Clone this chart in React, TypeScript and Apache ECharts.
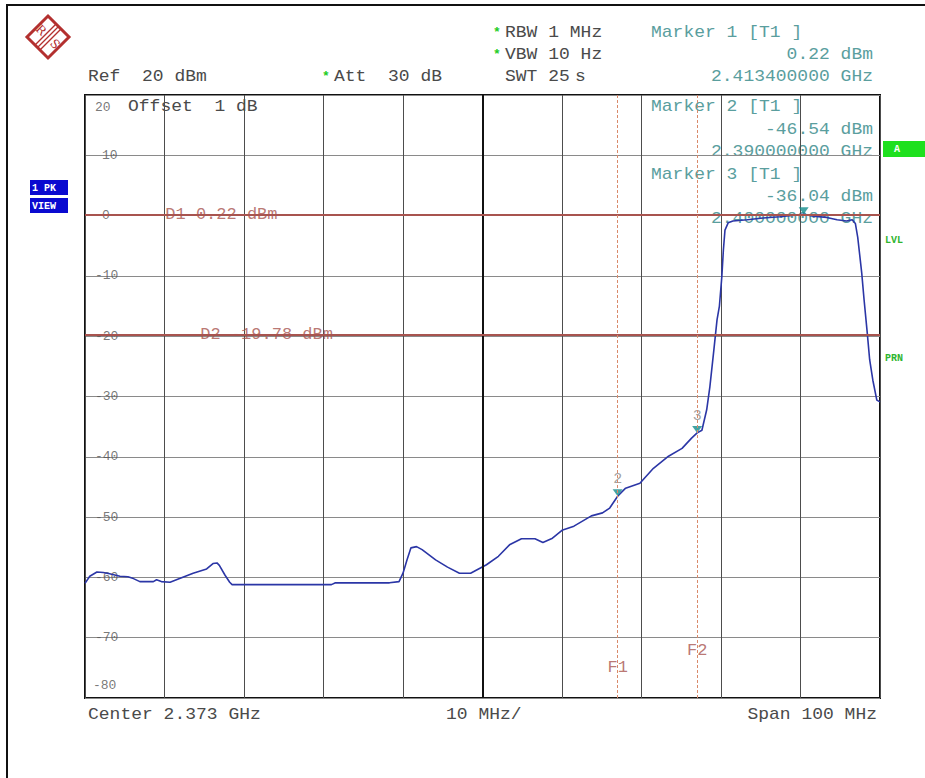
import React, { useEffect, useRef } from "react";
import * as echarts from "echarts";

// Sweep settings
const CENTER_MHZ = 2373;
const SPAN_MHZ = 100;

// Trace 1 (peak detector) — frequency in MHz, level in dBm
const traceFreqMHz = [
  2323.0, 2323.6, 2324.5, 2325.3, 2326.1, 2327.4, 2328.4, 2329.1, 2329.9, 2331.6,
  2332.0, 2332.6, 2333.7, 2334.9, 2336.6, 2338.3, 2339.1, 2339.6, 2339.9, 2340.6,
  2341.2, 2341.5, 2352.5, 2354.0, 2354.5, 2361.3, 2362.5, 2363.0, 2363.5, 2364.0,
  2364.7, 2365.4, 2367.1, 2368.6, 2370.1, 2371.5, 2372.5, 2373.5, 2375.0, 2376.4,
  2377.9, 2379.6, 2380.6, 2381.8, 2383.0, 2384.5, 2386.7, 2388.1, 2389.0, 2390.0,
  2391.0, 2392.8, 2394.5, 2396.4, 2398.1, 2399.3, 2400.0, 2400.6, 2401.2, 2401.6,
  2402.1, 2402.5, 2402.8, 2403.1, 2403.3, 2403.5, 2403.9, 2404.5, 2406.3, 2408.3,
  2410.4, 2413.4, 2414.6, 2416.3, 2417.6, 2418.8, 2419.5, 2419.9, 2420.2, 2420.7,
  2421.0, 2421.4, 2421.7, 2422.1, 2422.6, 2423.0,
];
const traceLevelDbm = [
  -61.0, -59.8, -59.1, -59.2, -59.4, -59.8, -59.9, -60.2, -60.7, -60.7,
  -60.4, -60.7, -60.8, -60.2, -59.3, -58.6, -57.7, -57.6, -58.0, -59.6,
  -60.8, -61.2, -61.2, -61.2, -60.9, -60.9, -60.7, -59.3, -57.1, -55.1,
  -54.9, -55.4, -57.1, -58.3, -59.3, -59.3, -58.6, -57.9, -56.5, -54.6,
  -53.6, -53.6, -54.2, -53.5, -52.2, -51.5, -49.8, -49.3, -48.5, -46.54,
  -45.2, -44.4, -41.9, -39.9, -38.6, -36.9, -36.04, -35.6, -32.2, -28.4,
  -22.3, -17.3, -15.0, -10.2, -5.7, -2.4, -1.2, -0.9, -0.7, -0.4,
  -0.2, 0.22, -0.1, -0.3, -0.7, -0.9, -0.7, -1.3, -3.6, -9.5,
  -14.0, -19.5, -23.9, -27.3, -30.6, -30.9,
];

// Level scale
const levelTicks = [20, 10, 0, -10, -20, -30, -40, -50, -60, -70, -80];

// Display lines (level) and frequency lines
const displayLineNames = ["D1", "D2"];
const displayLineLevels = [0.22, -19.78];
const freqLineNames = ["F1", "F2"];
const freqLineMHz = [2390, 2400];
const freqLineLabelLevel = [-75.0, -72.2];

// Markers
const markerNames = ["1", "2", "3"];
const markerFreqMHz = [2413.4, 2390, 2400];
const markerLevelDbm = [0.22, -46.54, -36.04];

const MONO = '"Liberation Mono", "DejaVu Sans Mono", monospace';
const ADV = 10.8;
const FS = 16;
const SX = 1.125;
const GRAY = "#4a4a4a";
const TEAL = "#5a9e9e";
const BROWN = "#a8544f";

const off = (f: number) => f - CENTER_MHZ;

// Monospaced line: each word placed at its column so spacing is kept
function mono(str: string, x: number, y: number, color: string, align: "left" | "right" = "left", z = 0) {
  const start = align === "right" ? x - str.length * ADV : x;
  const out: any[] = [];
  const re = /\S+/g;
  let m: RegExpExecArray | null;
  while ((m = re.exec(str))) {
    out.push({
      type: "text",
      x: start + m.index * ADV,
      y,
      scaleX: SX,
      z,
      silent: true,
      style: {
        text: m[0],
        fill: color,
        fontSize: FS,
        fontFamily: MONO,
        align: "left",
        verticalAlign: "middle",
      },
    });
  }
  return out;
}

function star(x: number, y: number) {
  return {
    type: "text",
    x,
    y,
    silent: true,
    style: { text: "*", fill: "#22cc22", fontSize: 13, fontFamily: MONO, fontWeight: "bold", align: "center", verticalAlign: "middle" },
  };
}

function tag(text: string, x: number, y: number, w: number, h: number, bg: string) {
  return [
    { type: "rect", shape: { x, y, width: w, height: h }, style: { fill: bg }, silent: true },
    {
      type: "text",
      x: x + 2,
      y: y + h / 2 + 0.5,
      silent: true,
      style: { text, fill: "#ffffff", fontSize: 10, fontWeight: "bold", fontFamily: MONO, align: "left", verticalAlign: "middle" },
    },
  ];
}

function logo() {
  const c = "#b3302f";
  const cx = 48, cy = 37, r = 21;
  const lines: any[] = [];
  for (const d of [-3.5, 0, 3.5]) {
    const ox = d / Math.SQRT2, oy = d / Math.SQRT2;
    lines.push({
      type: "line",
      silent: true,
      shape: { x1: cx - 10.5 + ox, y1: cy + 10.5 + oy, x2: cx + 10.5 + ox, y2: cy - 10.5 + oy },
      style: { stroke: c, lineWidth: 1.3 },
    });
  }
  return [
    {
      type: "polygon",
      silent: true,
      shape: { points: [[cx, cy - r], [cx + r, cy], [cx, cy + r], [cx - r, cy]] },
      style: { fill: "none", stroke: c, lineWidth: 3 },
    },
    ...lines,
    { type: "text", x: cx - 7, y: cy - 7, rotation: -Math.PI / 4, silent: true, style: { text: "R", fill: c, fontSize: 12, fontFamily: "DejaVu Serif", align: "center", verticalAlign: "middle" } },
    { type: "text", x: cx + 7, y: cy + 7, rotation: -Math.PI / 4, silent: true, style: { text: "S", fill: c, fontSize: 12, fontFamily: "DejaVu Serif", align: "center", verticalAlign: "middle" } },
  ];
}

export default function App() {
  const ref = useRef<HTMLDivElement>(null);

  useEffect(() => {
    if (!ref.current) return;
    const chart = echarts.init(ref.current, undefined, { renderer: "svg" });

    const traceData = traceFreqMHz.map((f, i) => [off(f), traceLevelDbm[i]]);
    const fmtLevel = (v: number) => `${v.toFixed(2)} dBm`;
    const fmtFreq = (f: number) => `${(f / 1000).toFixed(9)} GHz`;

    const graphic: any[] = [
      // outer frame
      { type: "line", silent: true, shape: { x1: 6, y1: 5, x2: 925, y2: 5 }, style: { stroke: "#111", lineWidth: 2 } },
      { type: "line", silent: true, shape: { x1: 7, y1: 4, x2: 7, y2: 778 }, style: { stroke: "#111", lineWidth: 2 } },
      ...logo(),
      // header
      star(497, 32), ...mono("RBW 1 MHz", 505, 33, GRAY),
      star(497, 54), ...mono("VBW 10 Hz", 505, 55, GRAY),
      ...mono("SWT 25", 505, 77, GRAY), ...mono("s", 575, 77, GRAY),
      ...mono("Ref  20 dBm", 88, 77, GRAY),
      star(326, 76), ...mono("Att  30 dB", 334, 77, GRAY),
      ...mono(`Marker ${markerNames[0]} [T1 ]`, 651, 33, TEAL),
      ...mono(fmtLevel(markerLevelDbm[0]), 873, 55, TEAL, "right"),
      ...mono(fmtFreq(markerFreqMHz[0]), 873, 77, TEAL, "right"),
      // inside the diagram
      ...mono("Offset  1 dB", 128, 107, GRAY),
      ...mono(`Marker ${markerNames[1]} [T1 ]`, 651, 107, TEAL),
      ...mono(fmtLevel(markerLevelDbm[1]), 873, 130, TEAL, "right"),
      ...mono(fmtFreq(markerFreqMHz[1]), 873, 152, TEAL, "right"),
      ...mono(`Marker ${markerNames[2]} [T1 ]`, 651, 175, TEAL),
      ...mono(fmtLevel(markerLevelDbm[2]), 873, 197, TEAL, "right"),
      ...mono(fmtFreq(markerFreqMHz[2]), 873, 219, TEAL, "right"),
      // footer
      ...mono(`Center ${(CENTER_MHZ / 1000).toFixed(3)} GHz`, 88, 715, GRAY),
      ...mono(`${SPAN_MHZ / 10} MHz/`, 446, 715, GRAY),
      ...mono(`Span ${SPAN_MHZ} MHz`, 877, 715, GRAY, "right"),
      // side annotations
      ...tag("1 PK", 30, 180, 38, 15, "#0a0ad0"),
      ...tag("VIEW", 30, 198, 38, 15, "#0a0ad0"),
      { type: "rect", silent: true, shape: { x: 883, y: 141, width: 42, height: 16 }, style: { fill: "#1ee01e" } },
      { type: "text", x: 897, y: 149, silent: true, style: { text: "A", fill: "#ffffff", fontSize: 10, fontWeight: "bold", fontFamily: MONO, align: "center", verticalAlign: "middle" } },
      { type: "text", x: 885, y: 240, silent: true, style: { text: "LVL", fill: "#2fb52f", fontSize: 10, fontWeight: "bold", fontFamily: MONO, align: "left", verticalAlign: "middle" } },
      { type: "text", x: 885, y: 358, silent: true, style: { text: "PRN", fill: "#2fb52f", fontSize: 10, fontWeight: "bold", fontFamily: MONO, align: "left", verticalAlign: "middle" } },
    ];

    const option: any = {
      animation: false,
      backgroundColor: "#ffffff",
      grid: {
        left: 85,
        top: 95,
        width: 795,
        height: 603,
        show: true,
        borderColor: "#111",
        borderWidth: 2,
        backgroundColor: "transparent",
        containLabel: false,
        outerBoundsMode: "none",
      },
      xAxis: {
        type: "value",
        min: -SPAN_MHZ / 2,
        max: SPAN_MHZ / 2,
        interval: SPAN_MHZ / 10,
        axisLine: { show: false },
        axisTick: { show: false },
        axisLabel: { show: false },
        splitLine: { show: true, lineStyle: { color: "#4d4d4d", width: 1 } },
      },
      yAxis: {
        type: "value",
        min: -80,
        max: 20,
        interval: 10,
        axisLine: { show: false },
        axisTick: { show: false },
        axisLabel: { show: false },
        splitLine: { show: true, lineStyle: { color: "#8a8a8a", width: 1.2 } },
      },
      graphic,
      series: [
        {
          // level scale written inside the diagram
          type: "scatter",
          z: 1,
          silent: true,
          symbolSize: 0,
          data: levelTicks.map((v) => ({
            value: [-SPAN_MHZ / 2, v],
            label: {
              distance: v === 20 ? 10 : v === -80 ? 8 : v >= 0 ? 17 : 10,
              offset: v === 20 ? [0, 12] : v === -80 ? [0, -13] : [0, 0],
            },
          })),
          label: {
            show: true,
            position: "right",
            formatter: (p: any) => String(p.value[1]),
            color: "#555",
            fontSize: 13,
            fontFamily: MONO,
          },
        },
        {
          // reference lines: centre frequency, display lines, frequency lines
          type: "line",
          z: 1,
          silent: true,
          data: [],
          markLine: {
            silent: true,
            symbol: "none",
            label: { show: false },
            data: [
              { xAxis: 0, lineStyle: { color: "#111", width: 2, type: "solid" } },
              ...displayLineLevels.map((v) => ({ yAxis: v, lineStyle: { color: BROWN, width: 2, type: "solid" } })),
              ...freqLineMHz.map((f) => ({ xAxis: off(f), lineStyle: { color: "#d98a6a", width: 1, type: [3, 2] } })),
            ],
          },
        },
        {
          // display-line and frequency-line captions
          type: "scatter",
          z: 2,
          silent: true,
          symbolSize: 0,
          data: [
            ...displayLineNames.map((n, i) => ({
              value: [-39.9 + i * 4.4, displayLineLevels[i]],
              name: `${n} ${fmtLevel(displayLineLevels[i])}`,
              label: { position: "right", distance: 0 },
            })),
            ...freqLineNames.map((n, i) => ({
              value: [off(freqLineMHz[i]), freqLineLabelLevel[i]],
              name: n,
              label: { position: "inside" },
            })),
          ],
          label: {
            show: true,
            formatter: (p: any) => p.name,
            color: BROWN,
            fontSize: 17,
            fontFamily: MONO,
          },
        },
        {
          type: "line",
          name: "Trace 1",
          z: 3,
          silent: true,
          data: traceData,
          showSymbol: false,
          symbol: "none",
          smooth: false,
          lineStyle: { color: "#2b36a6", width: 1.6 },
        },
        {
          // marker symbols
          type: "scatter",
          z: 4,
          silent: true,
          symbol: "path://M0,0 L10,0 L5,7 Z",
          symbolSize: [10, 7],
          symbolOffset: [0, -3.5],
          itemStyle: { color: "#138c8c" },
          data: markerFreqMHz.map((f, i) => ({ value: [off(f), markerLevelDbm[i]], name: i === 0 ? "" : markerNames[i] })),
          label: {
            show: true,
            position: "top",
            distance: 2,
            formatter: (p: any) => p.name,
            color: "#8a8a8a",
            fontSize: 15,
            fontFamily: MONO,
          },
        },
      ],
    };

    chart.setOption(option);
    return () => chart.dispose();
  }, []);

  return (
    <div
      ref={ref}
      style={{ position: "absolute", left: 0, top: 0, width: 925, height: 778, background: "#fff" }}
    />
  );
}
